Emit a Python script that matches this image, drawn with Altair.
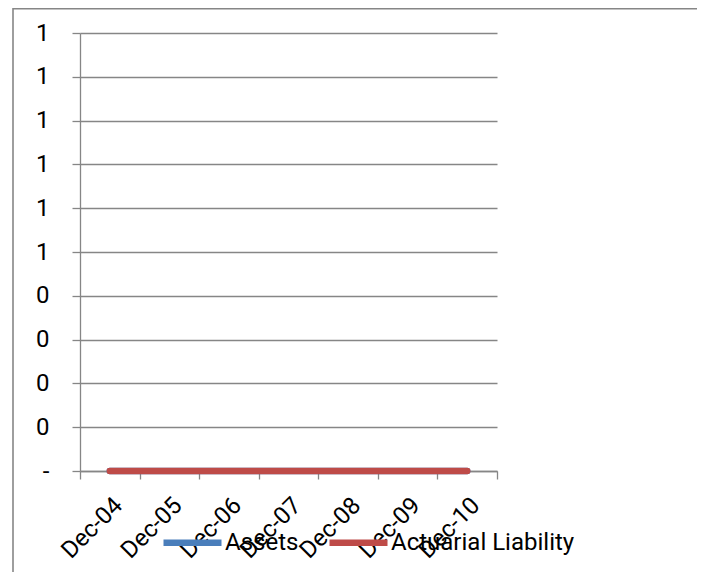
import altair as alt
import pandas as pd

categories = ["Dec-04", "Dec-05", "Dec-06", "Dec-07", "Dec-08", "Dec-09", "Dec-10"]
assets = [0, 0, 0, 0, 0, 0, 0]
actuarial_liability = [0, 0, 0, 0, 0, 0, 0]
series_names = ["Assets", "Actuarial Liability"]
series_colors = ["#4A7EBB", "#BE4B48"]
y_tick_values = [0, 0.1, 0.2, 0.3, 0.4, 0.5, 0.6, 0.7, 0.8, 0.9, 1.0]
y_tick_labels = ["-", "0", "0", "0", "0", "1", "1", "1", "1", "1", "1"]

FONT = "Roboto"
FS = 24
GRAY = "#868686"

df_a = pd.DataFrame({"date": categories, "value": assets, "series": series_names[0]})
df_l = pd.DataFrame({"date": categories, "value": actuarial_liability, "series": series_names[1]})

label_arr = "[" + ",".join("'" + s + "'" for s in y_tick_labels) + "]"

x_enc = alt.X(
    "date:N",
    sort=categories,
    scale=alt.Scale(paddingInner=0, paddingOuter=0),
    axis=alt.Axis(
        title=None,
        labelAngle=-45,
        labelAlign="right",
        labelBaseline="top",
        labelPadding=14,
        tickBand="extent",
        tickSize=8,
        tickColor=GRAY,
        tickWidth=1.3,
        domainColor=GRAY,
        domainWidth=1.3,
        grid=False,
        labelFont=FONT,
        labelFontSize=FS,
        labelColor="black",
    ),
)
y_enc = alt.Y(
    "value:Q",
    scale=alt.Scale(domain=[0, 1], nice=False),
    axis=alt.Axis(
        title=None,
        values=y_tick_values,
        labelExpr=label_arr + "[round(datum.value*10)]",
        tickSize=8,
        tickColor=GRAY,
        tickWidth=1.3,
        domainColor=GRAY,
        domainWidth=1.3,
        grid=True,
        gridColor=GRAY,
        gridWidth=1.3,
        labelPadding=23,
        labelFont=FONT,
        labelFontSize=FS,
        labelColor="black",
    ),
)
color_enc = alt.Color(
    "series:N",
    scale=alt.Scale(domain=series_names, range=series_colors),
    legend=alt.Legend(
        title=None,
        orient="none",
        direction="horizontal",
        legendX=80,
        legendY=477,
        symbolType="stroke",
        symbolSize=3364,
        symbolStrokeWidth=6.5,
        labelFont=FONT,
        labelFontSize=FS,
        labelColor="black",
        labelOffset=0,
        labelLimit=400,
        columnPadding=17,
        padding=0,
    ),
)

line_a = alt.Chart(df_a).mark_line(strokeWidth=6.5, strokeCap="round").encode(x=x_enc, y=y_enc, color=color_enc)
line_l = alt.Chart(df_l).mark_line(strokeWidth=6.5, strokeCap="round").encode(x=x_enc, y=y_enc, color=color_enc)

frame_data = alt.Data(values=[{}])
frame_left = alt.Chart(frame_data).mark_rule(color=GRAY, strokeWidth=1.6).encode(
    x=alt.value(-67), y=alt.value(-25), y2=alt.value(560)
)
frame_top = alt.Chart(frame_data).mark_rule(color=GRAY, strokeWidth=1.6).encode(
    x=alt.value(-67), x2=alt.value(620), y=alt.value(-24.2)
)

chart = alt.layer(frame_left, frame_top, line_a, line_l).properties(
    width=417,
    height=438,
    autosize=alt.AutoSizeParams(type="none"),
    padding={"left": 72, "top": 25, "right": 200, "bottom": 101},
).configure_view(stroke=None)

chart.save("out.html", embed_options={"renderer": "svg", "actions": False})
